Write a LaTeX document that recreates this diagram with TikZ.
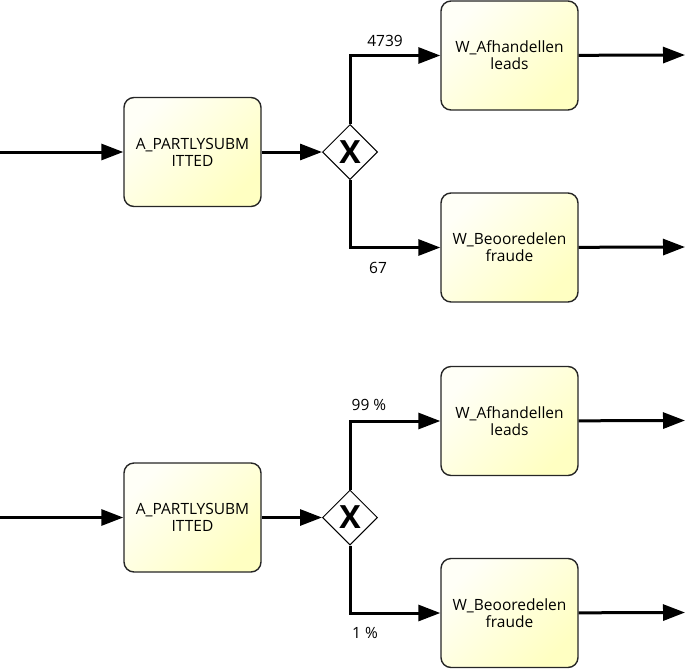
\documentclass[tikz,border=0pt]{standalone}
\usepackage{fontspec}
\setmainfont{Open Sans}
\usetikzlibrary{positioning}
\usetikzlibrary{shapes.geometric}
\usetikzlibrary{arrows.meta}

\tikzset{
  task/.style={draw=black!85, line width=1.4pt, rounded corners=10pt,
    minimum width=137pt, minimum height=109pt, align=center,
    top color=yellow!3, bottom color=yellow!24, shading angle=45,
    font=\fontsize{15.5}{17}\selectfont},
  xgate/.style={draw, diamond, line width=1pt, fill=white, minimum width=55pt,
    minimum height=55pt, inner sep=0pt, font=\fontsize{32}{32}\bfseries},
  flow/.style={line width=3pt, -{Triangle[length=22pt,width=16pt]}},
  lbl/.style={font=\fontsize{15.5}{17}\selectfont}
}

\begin{document}
\begin{tikzpicture}[x=1pt,y=-1pt]
\useasboundingbox (0,0) rectangle (685,670);

% counts
\begin{scope}
\node[task] (a1) at (192.5,152) {A\_PARTLYSUBM\\ITTED};
\node[xgate] (g1) at (350,152) {X};
\node[task] (af1) at (509.5,55.5) {W\_Afhandellen\\leads};
\node[task] (bf1) at (509.5,247.5) {W\_Beooredelen\\fraude};
\coordinate (in1) at (0,152);
\coordinate (out1a) at (685,55);
\coordinate (out1b) at (685,247);

\draw[flow] (in1) -- (a1);
\draw[flow] (a1) -- (g1);
\draw[flow] (g1.north) |- (af1.west);
\draw[flow] (g1.south) |- (bf1.west);
\draw[flow] (af1) -- (out1a);
\draw[flow] (bf1) -- (out1b);

\node[lbl] (n1a) at (385,41) {4739};
\node[lbl] (n1b) at (378,268) {67};
\end{scope}

% percentages
\begin{scope}[yshift=-365.5pt]
\node[task] (a2) at (192.5,152) {A\_PARTLYSUBM\\ITTED};
\node[xgate] (g2) at (350,152) {X};
\node[task] (af2) at (509.5,55.5) {W\_Afhandellen\\leads};
\node[task] (bf2) at (509.5,247.5) {W\_Beooredelen\\fraude};
\coordinate (in2) at (0,152);
\coordinate (out2a) at (685,55);
\coordinate (out2b) at (685,247);

\draw[flow] (in2) -- (a2);
\draw[flow] (a2) -- (g2);
\draw[flow] (g2.north) |- (af2.west);
\draw[flow] (g2.south) |- (bf2.west);
\draw[flow] (af2) -- (out2a);
\draw[flow] (bf2) -- (out2b);

\node[lbl] (n2a) at (369,39.5) {99 \%};
\node[lbl] (n2b) at (365,267.5) {1 \%};
\end{scope}

\end{tikzpicture}
\end{document}
